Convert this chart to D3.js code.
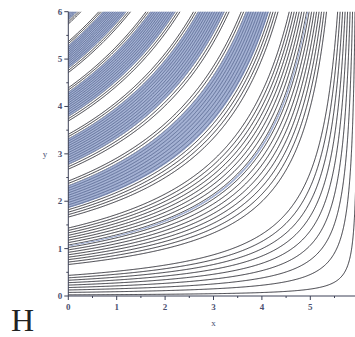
<!DOCTYPE html>
<html><head><meta charset="utf-8">
<script src="https://cdn.jsdelivr.net/npm/d3@7"></script>
<style>body{margin:0;background:#fff}svg{display:block}</style>
</head><body><svg id="c" width="355" height="337"></svg>
<script>
// ---- data ----
const xDomain = [0, 6];
const yDomain = [0, 6];
const xTickValues = [0, 1, 2, 3, 4, 5];
const yTickValues = [0, 1, 2, 3, 4, 5, 6];
const xMinorTicks = [0.5, 1.5, 2.5, 3.5, 4.5, 5.5];
const yMinorTicks = [0.5, 1.5, 2.5, 3.5, 4.5, 5.5];
// contour levels (magnitudes, mirrored to negative)
const levelMagnitudes = [0.05, 0.15, 0.25, 0.35, 0.45, 0.55, 0.65, 0.75];
// wave amplitude at each crest/trough along u = y(6-x)/6
const crestU = [0.55, 1.55, 2.55, 3.55, 4.55, 5.55];
const crestAmp = [0.974, 0.974, 1.0, 1.042, 1.103, 1.19];
const wavePhase = 0.05;
const panelLabel = "H", xLabel = "x", yLabel = "y";

const levels = levelMagnitudes.map(v => -v).reverse().concat(levelMagnitudes);

// ---- layout ----
const svg = d3.select("#c");
const x = d3.scaleLinear().domain(xDomain).range([68.3, 358.7]);
const y = d3.scaleLinear().domain(yDomain).range([296, 11.7]);
const amp = d3.scaleLinear().domain(crestU).range(crestAmp);

const uOf = (xv, yv) => yv * (6 - xv) / 6;
function field(xv, yv) {
  const u = uOf(xv, yv);
  // triangular wave in u
  return amp(u) * (2 / Math.PI) * Math.asin(Math.sin(Math.PI * (u - wavePhase)));
}

// grid
const gx0 = -0.15, gx1 = 6.3, gy0 = -0.15, gy1 = 6.25;
const nx = 380, ny = 370;
const dx = (gx1 - gx0) / (nx - 1), dy = (gy1 - gy0) / (ny - 1);
const values = new Float64Array(nx * ny);
const tintVals = new Float64Array(nx * ny);
const wU = d3.scaleLinear().domain([1.0, 2.2]).range([0, 1]).clamp(true);
for (let j = 0; j < ny; j++) for (let i = 0; i < nx; i++) {
  const xv = gx0 + i * dx, yv = gy0 + j * dy;
  const f = field(xv, yv);
  values[j * nx + i] = f;
  tintVals[j * nx + i] = 0.56 * wU(uOf(xv, yv)) - Math.abs(f);
}

const proj = d3.geoTransform({
  point: function(px, py) {
    this.stream.point(x(gx0 + (px - 0.5) * dx), y(gy0 + (py - 0.5) * dy));
  }
});
const path = d3.geoPath(proj);

// centre of the denser bands (shown with the scanned blue tint)
const denseRegion = d3.contours().size([nx, ny]).thresholds([0])(tintVals)[0];

const defs = svg.append("defs");
defs.append("clipPath").attr("id", "plot")
  .append("rect").attr("x", x(0)).attr("y", y(6)).attr("width", x(6) - x(0)).attr("height", y(0) - y(6));
defs.append("clipPath").attr("id", "dense").append("path").attr("d", path(denseRegion));
const mask = defs.append("mask").attr("id", "sparse");
mask.append("rect").attr("x", 0).attr("y", 0).attr("width", 355).attr("height", 337).attr("fill", "#fff");
mask.append("path").attr("d", path(denseRegion)).attr("fill", "#000");

const contours = d3.contours().size([nx, ny]).thresholds(levels)(values);

const g = svg.append("g").attr("clip-path", "url(#plot)");
g.append("g").attr("mask", "url(#sparse)")
  .selectAll("path").data(contours).join("path")
  .attr("d", path).attr("fill", "none").attr("stroke", "#17171f").attr("stroke-width", 0.85);
const gd = g.append("g").attr("clip-path", "url(#dense)");
gd.append("path").attr("d", path(denseRegion)).attr("fill", "#a4b1d3");
gd.selectAll("path.c").data(contours).join("path").attr("class", "c")
  .attr("d", path).attr("fill", "none").attr("stroke", "#56658f").attr("stroke-width", 0.85);

// ---- axes ----
const axisColor = "#3c4056", textColor = "#4b5070";
const ax = svg.append("g");
ax.append("line").attr("x1", x(0)).attr("x2", 355).attr("y1", y(0)).attr("y2", y(0)).attr("stroke", axisColor).attr("stroke-width", 1);
ax.append("line").attr("x1", x(0)).attr("x2", x(0)).attr("y1", y(0)).attr("y2", y(6)).attr("stroke", axisColor).attr("stroke-width", 1);
ax.selectAll("line.xt").data(xTickValues).join("line").attr("class", "xt")
  .attr("x1", d => x(d)).attr("x2", d => x(d)).attr("y1", y(0)).attr("y2", y(0) + 4).attr("stroke", axisColor);
ax.selectAll("line.xm").data(xMinorTicks).join("line").attr("class", "xm")
  .attr("x1", d => x(d)).attr("x2", d => x(d)).attr("y1", y(0)).attr("y2", y(0) + 2).attr("stroke", axisColor);
ax.selectAll("line.yt").data(yTickValues).join("line").attr("class", "yt")
  .attr("x1", x(0) - 4).attr("x2", x(0)).attr("y1", d => y(d)).attr("y2", d => y(d)).attr("stroke", axisColor);
ax.selectAll("line.ym").data(yMinorTicks).join("line").attr("class", "ym")
  .attr("x1", x(0) - 2).attr("x2", x(0)).attr("y1", d => y(d)).attr("y2", d => y(d)).attr("stroke", axisColor);
ax.selectAll("text.xl").data(xTickValues).join("text").attr("class", "xl")
  .attr("x", d => x(d)).attr("y", y(0) + 14).attr("text-anchor", "middle")
  .attr("font-family", "Liberation Serif").attr("font-size", 9).attr("font-weight", "bold").attr("fill", textColor).text(d => d);
ax.selectAll("text.yl").data(yTickValues).join("text").attr("class", "yl")
  .attr("x", x(0) - 6).attr("y", d => y(d) + 3).attr("text-anchor", "end")
  .attr("font-family", "Liberation Serif").attr("font-size", 9).attr("font-weight", "bold").attr("fill", textColor).text(d => d);
svg.append("text").attr("x", x(3)).attr("y", 326).attr("text-anchor", "middle")
  .attr("font-family", "Liberation Serif").attr("font-size", 9).attr("fill", textColor).text(xLabel);
svg.append("text").attr("x", 45).attr("y", y(3) + 3).attr("text-anchor", "middle")
  .attr("font-family", "Liberation Serif").attr("font-size", 9).attr("fill", textColor).text(yLabel);
svg.append("text").attr("x", 11).attr("y", 331)
  .attr("font-family", "Liberation Serif").attr("font-size", 32).attr("fill", "#222").text(panelLabel);
</script></body></html>
